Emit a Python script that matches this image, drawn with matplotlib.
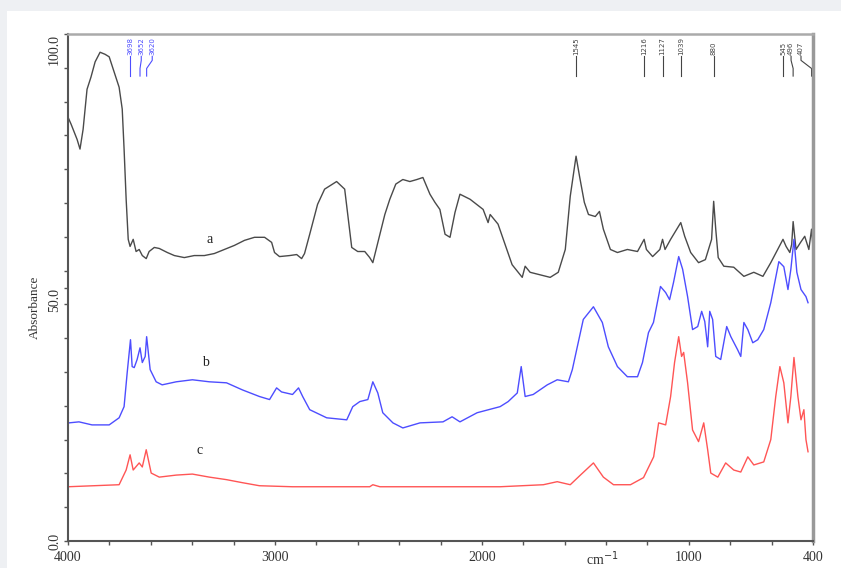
import matplotlib.pyplot as plt
from matplotlib.patches import Rectangle

# FTIR spectra, wavenumber (cm-1) vs absorbance
a_wn = [4000, 3985, 3956, 3942, 3927, 3908, 3889, 3869, 3845, 3821, 3801, 3777, 3753, 3738,
        3729, 3719, 3709, 3700, 3685, 3671, 3656, 3641, 3622, 3608, 3583, 3559, 3520, 3486,
        3438, 3390, 3341, 3293, 3244, 3196, 3147, 3099, 3050, 3016, 3002, 2978, 2929, 2895,
        2871, 2857, 2832, 2794, 2760, 2702, 2663, 2648, 2629, 2600, 2566, 2542, 2527, 2493,
        2469, 2445, 2416, 2382, 2348, 2314, 2285, 2251, 2227, 2203, 2178, 2154, 2130, 2106,
        2057, 1994, 1970, 1960, 1922, 1888, 1854, 1805, 1791, 1767, 1670, 1631, 1597, 1573,
        1545, 1528, 1505, 1485, 1452, 1432, 1413, 1379, 1345, 1297, 1248, 1216, 1205, 1175,
        1140, 1127, 1115, 1088, 1039, 1020, 991, 953, 920, 890, 880, 870, 858, 831, 783, 734,
        686, 642, 604, 545, 530, 512, 503, 496, 482, 460, 440, 420, 407, 400]
a_abs = [83.6, 82.2, 79.2, 77.3, 81.2, 89.1, 91.5, 94.5, 96.4, 96.0, 95.5, 92.5, 89.5, 85.2,
         77.3, 67.4, 59.5, 58.1, 59.5, 57.1, 57.5, 56.3, 55.7, 57.1, 57.9, 57.7, 56.9, 56.3,
         55.9, 56.3, 56.3, 56.7, 57.5, 58.3, 59.3, 59.9, 59.9, 58.9, 56.9, 56.1, 56.3, 56.5,
         55.7, 56.7, 60.5, 66.4, 69.4, 70.9, 69.4, 64.4, 57.9, 57.1, 57.1, 55.9, 54.9, 60.5,
         64.4, 67.4, 70.4, 71.3, 70.9, 71.3, 71.7, 68.4, 66.8, 65.4, 60.5, 59.9, 64.8, 68.4,
         67.4, 65.4, 62.8, 64.4, 62.5, 58.5, 54.5, 52.0, 54.2, 53.0, 52.0, 53.0, 57.5, 68.0,
         75.9, 71.9, 66.8, 64.4, 64.0, 65.0, 61.5, 57.5, 56.9, 57.5, 57.1, 59.5, 57.5, 56.1,
         57.5, 59.5, 57.5, 59.5, 62.8, 60.1, 56.9, 54.9, 55.5, 59.5, 67.0, 61.5, 55.9, 54.2,
         54.0, 52.2, 53.0, 52.2, 54.9, 59.5, 58.1, 56.9, 58.5, 63.0, 57.5, 58.9, 60.1, 57.5,
         61.5, 58.0]

b_wn = [4000, 3995, 3947, 3884, 3801, 3753, 3729, 3714, 3698, 3690, 3680, 3666, 3652, 3641,
        3627, 3620, 3603, 3574, 3545, 3477, 3399, 3317, 3234, 3157, 3075, 3026, 2992, 2968,
        2915, 2886, 2866, 2832, 2750, 2653, 2624, 2590, 2551, 2527, 2503, 2479, 2430, 2382,
        2299, 2188, 2144, 2106, 2023, 1912, 1873, 1829, 1810, 1791, 1752, 1684, 1636, 1582,
        1563, 1539, 1510, 1461, 1418, 1389, 1345, 1297, 1248, 1224, 1195, 1171, 1137, 1112,
        1093, 1074, 1049, 1030, 1006, 982, 957, 938, 923, 909, 899, 885, 870, 846, 817, 797,
        764, 749, 734, 715, 691, 667, 638, 604, 565, 541, 521, 507, 492, 478, 458, 434, 424]
b_abs = [23.3, 23.3, 23.5, 22.9, 22.9, 24.3, 26.5, 33.2, 39.7, 34.4, 34.2, 35.8, 38.1, 35.2,
         36.4, 40.3, 33.8, 31.4, 30.8, 31.4, 31.8, 31.4, 31.2, 29.8, 28.5, 27.9, 30.2, 29.4,
         28.9, 30.2, 28.5, 25.9, 24.3, 23.9, 26.5, 27.5, 27.9, 31.4, 29.2, 25.3, 23.3, 22.3,
         23.3, 23.5, 24.5, 23.5, 25.3, 26.5, 27.5, 29.2, 34.4, 28.5, 28.9, 30.8, 31.8, 31.4,
         33.8, 38.3, 43.7, 46.2, 43.1, 38.3, 34.4, 32.4, 32.4, 35.2, 41.1, 43.1, 50.2, 49.0,
         47.6, 51.0, 56.1, 53.6, 48.2, 41.7, 42.3, 45.3, 43.3, 38.3, 45.3, 43.7, 36.4, 35.8,
         42.3, 40.3, 37.7, 36.4, 43.1, 41.7, 39.1, 39.7, 41.7, 47.0, 55.1, 54.1, 49.6, 53.6,
         59.5, 53.0, 49.6, 48.2, 47.0]

c_wn = [4000, 3753, 3719, 3700, 3685, 3656, 3641, 3622, 3598, 3559, 3477, 3399, 3317, 3234,
        3157, 3075, 2915, 2542, 2527, 2493, 2106, 1912, 1703, 1636, 1573, 1524, 1461, 1413,
        1364, 1282, 1219, 1170, 1146, 1112, 1088, 1069, 1049, 1035, 1025, 1006, 982, 953,
        928, 909, 894, 860, 822, 783, 749, 715, 686, 638, 604, 580, 560, 541, 521, 507, 492,
        473, 458, 444, 434, 424]
c_abs = [10.7, 11.1, 14.0, 17.0, 14.0, 15.4, 14.6, 18.0, 13.4, 12.6, 13.0, 13.2, 12.6, 12.1,
         11.5, 10.9, 10.7, 10.7, 11.1, 10.7, 10.7, 10.7, 11.1, 11.7, 11.1, 13.0, 15.4, 12.6,
         11.1, 11.1, 12.5, 16.6, 23.3, 22.9, 28.5, 35.2, 40.3, 36.4, 37.2, 31.2, 21.9, 19.6,
         23.3, 18.0, 13.4, 12.6, 15.4, 14.0, 13.6, 16.6, 15.0, 15.6, 20.0, 28.5, 34.4, 31.2,
         23.3, 28.5, 36.2, 28.5, 23.9, 25.9, 20.0, 17.6]

# peak picks: value, where the label text sits
peaks_a = [1545, 1216, 1127, 1039, 880, 545, 496, 407]
peaks_a_text = [1545, 1216, 1127, 1039, 880, 545, 506, 458]
peaks_b = [3698, 3652, 3620]
peaks_b_text = [3698, 3646, 3593]

col_a = '#4a4a4a'
col_b = '#4d4dff'
col_c = '#ff5555'
serif = 'Liberation Serif'

fig = plt.figure(figsize=(8.41, 5.68), dpi=100, facecolor='#eef0f3')
fig.patches.append(Rectangle((7 / 841, 0), 1, (568 - 11) / 568, transform=fig.transFigure,
                             facecolor='white', edgecolor='none', zorder=-10))
ax = fig.add_axes([68 / 841, 27 / 568, 745 / 841, 507 / 568])
ax.set_zorder(1)
ax.patch.set_alpha(0)

ax.plot(a_wn, a_abs, color=col_a, lw=1.0)
ax.plot(b_wn, b_abs, color=col_b, lw=1.0)
ax.plot(c_wn, c_abs, color=col_c, lw=1.0)

ax.text(3317, 59.5, 'a', family=serif, fontsize=10, ha='center', va='center', color='#222')
ax.text(3336, 35.2, 'b', family=serif, fontsize=10, ha='center', va='center', color='#222')
ax.text(3365, 17.8, 'c', family=serif, fontsize=10, ha='center', va='center', color='#222')


def peak_labels(values, text_pos, color):
    for v, t in zip(values, text_pos):
        if v == t:
            ax.plot([v, v], [91.7, 95.6], color=color, lw=0.8)
        else:
            ax.plot([v, v, t, t], [91.7, 93.2, 94.8, 95.6], color=color, lw=0.8)
        ax.text(t, 95.8, str(v), rotation=90, fontsize=5, ha='center', va='bottom',
                color=color, family='DejaVu Sans')


peak_labels(peaks_a, peaks_a_text, '#444444')
peak_labels(peaks_b, peaks_b_text, '#4d4dff')

ax.set_xlim(4000, 400)
ax.set_ylim(0, 100)
ax.set_xticks(range(4000, 399, -200), minor=True)
ax.set_xticks([4000, 3000, 2000, 1000, 400])
ax.set_xticklabels(['4000', '3000', '2000', '1000', '400'], family=serif, fontsize=10,
                   color='#333')
ax.set_yticks([100 * i / 15 for i in range(16)], minor=True)
ax.set_yticks([0, 50, 100])
ylabels = ax.set_yticklabels(['0.0', '50.0', '100.0'], family=serif, fontsize=10,
                             color='#333', rotation=90)
ylabels[0].set_va('center')
ylabels[1].set_va('top')
ylabels[2].set_va('top')
ax.tick_params(which='both', direction='out', length=3, width=1, color='#555')
ax.tick_params(axis='x', pad=4)
ax.tick_params(axis='y', pad=2)

ax.set_ylabel('Absorbance', family=serif, fontsize=9.5, color='#333', labelpad=2)
ax.yaxis.set_label_coords(-0.037, 0.46)
ax.text(1420, -1.6, 'cm$^{-1}$', family=serif, fontsize=10, ha='center', va='top',
        color='#333')

for side, c, w in [('left', '#555', 1.5), ('bottom', '#555', 1.5),
                   ('top', '#aaa', 1.8), ('right', '#999', 2.5)]:
    ax.spines[side].set_color(c)
    ax.spines[side].set_linewidth(w)

fig.savefig('out.png', dpi=100, facecolor=fig.get_facecolor())
